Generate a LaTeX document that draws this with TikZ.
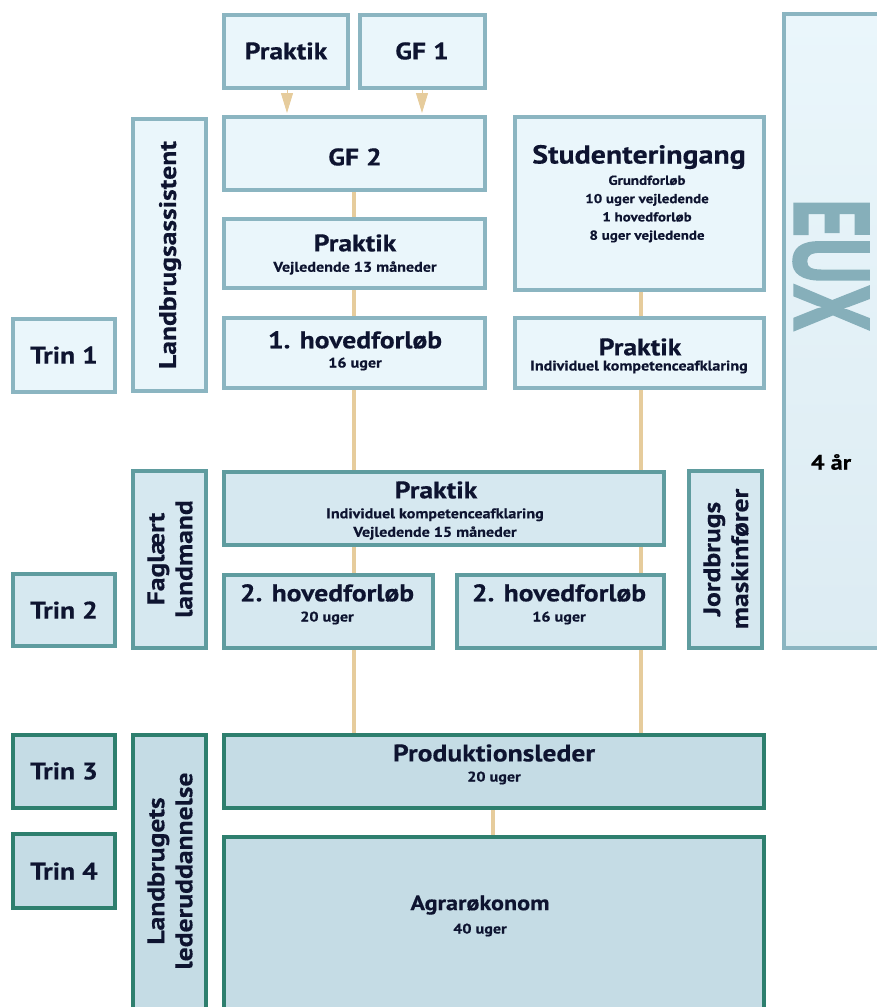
\documentclass[tikz,border=0pt]{standalone}
\usepackage{fontspec}
\setmainfont{PT Sans}[FakeStretch=1.15, BoldFeatures={FakeBold=0.4}]
\newfontfamily\euxfont{PT Sans}[BoldFeatures={FakeBold=2}]
\usetikzlibrary{arrows.meta,calc}
\definecolor{bordA}{HTML}{8BB5C1}
\definecolor{fillA}{HTML}{EAF6FB}
\definecolor{bordB}{HTML}{5F9C9F}
\definecolor{fillB}{HTML}{D6E8F0}
\definecolor{bordC}{HTML}{2E7F6E}
\definecolor{fillC}{HTML}{C5DCE5}
\definecolor{tanc}{HTML}{E6CC9C}
\definecolor{ink}{HTML}{0E1430}
\definecolor{euxc}{HTML}{86AFBA}
\newcommand\bx[6]{\node[#1, minimum width={#5-#3-4}, minimum height={#6-#4-4}] (#2) at ({(#3+#5)/2},{(#4+#6)/2}) {};}
\tikzset{
  boxbase/.style={rectangle, line width=4pt, inner sep=0pt},
  lbox/.style={boxbase, draw=bordA, fill=fillA},
  mbox/.style={boxbase, draw=bordB, fill=fillB},
  dbox/.style={boxbase, draw=bordC, fill=fillC},
  conn/.style={draw=tanc, line width=4pt},
  tri/.style={draw=tanc, line width=1pt, -{Triangle[width=12pt,length=20pt,fill=tanc]}},
  ttl/.style={font=\bfseries\fontsize{24}{26}\selectfont, text=ink, inner sep=0pt},
  sub/.style={font=\bfseries\fontsize{14}{18.5}\selectfont, text=ink, inner sep=0pt, align=center},
  vert/.style={font=\bfseries\fontsize{24}{28}\selectfont, text=ink, inner sep=0pt, align=center, rotate=90},
}
\begin{document}
\begin{tikzpicture}[x=1pt,y=-1pt]
\useasboundingbox (0,0) rectangle (877,1007);
% EUX
\node[boxbase, draw=bordA, top color=fillA, bottom color=fillB!85, minimum width=110, minimum height=634] (eux) at (839,331) {};
\node[font=\euxfont\bfseries\fontsize{106}{106}\selectfont, text=euxc, rotate=-90, inner sep=0pt] (euxt) at (831,265) {\scalebox{0.7}[1]{EUX}};
\node[font=\bfseries\fontsize{21}{24}\selectfont, text=black, inner sep=0pt] (aar) at (831,462) {4 år};
% top group
\bx{lbox}{prA}{222}{13}{350}{90}
\bx{lbox}{gfa}{358}{13}{487}{90}
\bx{lbox}{gfb}{222}{115}{487}{192}
\bx{lbox}{prB}{222}{217}{487}{290}
\bx{lbox}{hfa}{222}{316}{487}{390}
\bx{lbox}{lba}{131}{117}{208}{393}
\bx{lbox}{trA}{11}{317}{117}{394}
\bx{lbox}{stud}{513}{115}{766}{292}
\bx{lbox}{prC}{513}{316}{766}{390}
% middle group
\bx{mbox}{fagl}{131}{469}{208}{650}
\bx{mbox}{prD}{222}{470}{666}{547}
\bx{mbox}{hfb}{222}{573}{435}{650}
\bx{mbox}{hfc}{455}{573}{666}{650}
\bx{mbox}{jord}{687}{469}{764}{650}
\bx{mbox}{trB}{11}{572}{117}{648}
% bottom group
\bx{dbox}{trC}{11}{733}{117}{810}
\bx{dbox}{trD}{11}{832}{117}{910}
\bx{dbox}{prod}{222}{733}{766}{810}
\bx{dbox}{led}{131}{733}{208}{1020}
\bx{dbox}{agr}{222}{835}{766}{1020}
% connectors
\coordinate (cL) at (354,0);
\coordinate (cR) at (641,0);
\draw[tri] (prA.south -| 287,0) -- (287,113);
\draw[tri] (gfa.south -| 422,0) -- (422,113);
\draw[conn] (gfb.south -| cL) -- (prB.north -| cL);
\draw[conn] (prB.south -| cL) -- (hfa.north -| cL);
\draw[conn] (hfa.south -| cL) -- (prD.north -| cL);
\draw[conn] (stud.south -| cR) -- (prC.north -| cR);
\draw[conn] (prC.south -| cR) -- (prD.north -| cR);
\draw[conn] (prD.south -| cL) -- (hfb.north -| cL);
\draw[conn] (prD.south -| cR) -- (hfc.north -| cR);
\draw[conn] (hfb.south -| cL) -- (prod.north -| cL);
\draw[conn] (hfc.south -| cR) -- (prod.north -| cR);
\draw[conn] (prod.south -| 493,0) -- (agr.north -| 493,0);
% texts
\node[ttl] (tprA) at (286,51) {Praktik};
\node[ttl] (tgfa) at (422,51) {GF 1};
\node[ttl] (tgfb) at (355,157) {GF 2};
\node[ttl] (tprB) at (355,243) {Praktik};
\node[sub] (sprB) at (355,268) {Vejledende 13 måneder};
\node[ttl] (thfa) at (355,340) {1. hovedforløb};
\node[sub] (shfa) at (355,364) {16 uger};
\node[ttl, font=\bfseries\fontsize{26}{28}\selectfont] (tstud) at (639,157) {Studenteringang};
\node[sub, font=\bfseries\fontsize{13}{18.3}\selectfont] (sstud) at (647,209) {Grundforløb\\10 uger vejledende\\1 hovedforløb\\8 uger vejledende};
\node[ttl] (tprC) at (640,347) {Praktik};
\node[sub] (sprC) at (639,367) {Individuel kompetenceafklaring};
\node[ttl] (ttrA) at (64,355) {Trin 1};
\node[vert] (tlba) at (170,255) {Landbrugsassistent};
\node[ttl] (tprD) at (436,490) {Praktik};
\node[sub] (sprD) at (435,524) {Individuel kompetenceafklaring\\Vejledende 15 måneder};
\node[ttl] (thfb) at (327,593) {2. hovedforløb};
\node[sub] (shfb) at (327,618) {20 uger};
\node[ttl] (thfc) at (559,593) {2. hovedforløb};
\node[sub] (shfc) at (559,618) {16 uger};
\node[ttl] (ttrB) at (64,610) {Trin 2};
\node[vert] (tfagl) at (170,559) {Faglært\\landmand};
\node[vert] (tjord) at (726,559) {Jordbrugs\\maskinfører};
\node[ttl] (ttrC) at (64,771) {Trin 3};
\node[ttl] (ttrD) at (64,871) {Trin 4};
\node[vert] (tled) at (170,871) {Landbrugets\\lederuddannelse};
\node[ttl] (tprod) at (494,753) {Produktionsleder};
\node[sub] (sprod) at (494,778) {20 uger};
\node[ttl, font=\bfseries\fontsize{21}{24}\selectfont] (tagr) at (480,905) {Agrarøkonom};
\node[sub] (sagr) at (480,930) {40 uger};
\end{tikzpicture}
\end{document}
